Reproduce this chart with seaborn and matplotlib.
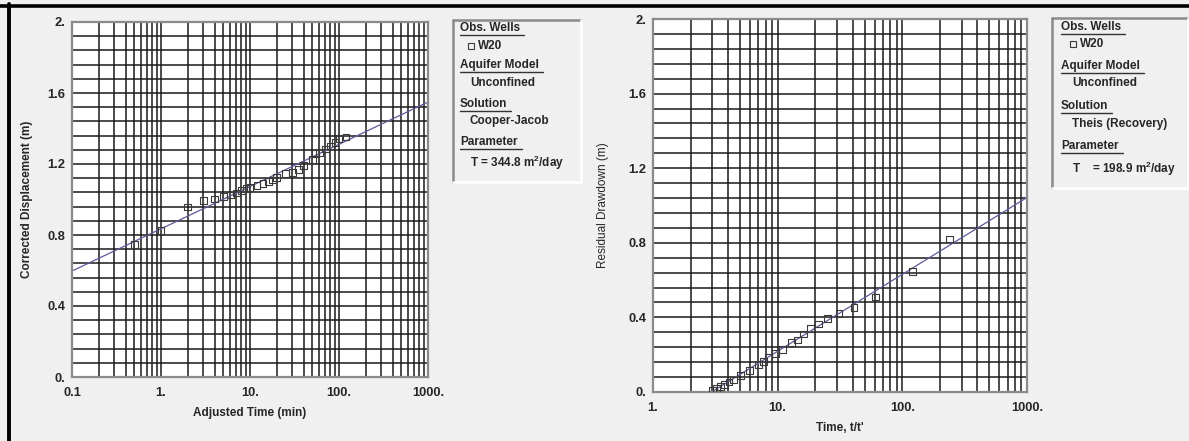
import numpy as np
import pandas as pd
import seaborn as sns
import matplotlib.pyplot as plt
from matplotlib.ticker import LogLocator, MultipleLocator, NullFormatter
from matplotlib.lines import Line2D

# pumping test, Cooper-Jacob
cj_time = [0.5, 1, 2, 3, 4, 5, 6, 7, 8, 9, 10, 12, 14, 16, 18, 20, 25, 30, 35, 40,
           50, 55, 60, 70, 80, 90, 100, 120]
cj_disp = [0.748, 0.824, 0.958, 0.993, 1.003, 1.016, 1.025, 1.037, 1.05, 1.06, 1.067,
           1.078, 1.091, 1.1, 1.11, 1.125, 1.147, 1.153, 1.17, 1.19, 1.226, 1.258,
           1.264, 1.285, 1.301, 1.322, 1.343, 1.352]
cj_fit_time = [0.1, 1000]
cj_fit_disp = [0.597, 1.549]

# recovery, Theis
rec_ratio = [3.02, 3.24, 3.49, 3.76, 4.07, 4.43, 5.05, 5.92, 7.03, 7.72, 8.5, 9.63, 11.0,
             12.9, 14.5, 16.0, 18.4, 21.2, 25.0, 31.0, 40.9, 60.6, 120, 238]
rec_resid = [0.008, 0.018, 0.029, 0.041, 0.054, 0.064, 0.089, 0.114, 0.146, 0.163, 0.184,
             0.205, 0.23, 0.264, 0.279, 0.311, 0.34, 0.365, 0.393, 0.422, 0.454, 0.509,
             0.645, 0.82]
rec_fit_ratio = [2.95, 1000]
rec_fit_resid = [0.0, 1.043]

y_ticks = [0, 0.4, 0.8, 1.2, 1.6, 2.0]
y_labels = ['0.', '0.4', '0.8', '1.2', '1.6', '2.']

left_legend = [('Obs. Wells', True), ('W20', False), ('Aquifer Model', True), ('Unconfined', False),
               ('Solution', True), ('Cooper-Jacob', False), ('Parameter', True),
               (r'T = 344.8 m$^\mathbf{2}$/day', False)]
right_legend = [('Obs. Wells', True), ('W20', False), ('Aquifer Model', True), ('Unconfined', False),
                ('Solution', True), ('Theis (Recovery)', False), ('Parameter', True),
                (r'T    = 198.9 m$^\mathbf{2}$/day', False)]

sns.set_style('white')
plt.rcParams['font.family'] = ['Liberation Sans', 'DejaVu Sans']
plt.rcParams['mathtext.fontset'] = 'custom'
plt.rcParams['mathtext.bf'] = 'Liberation Sans:bold'
plt.rcParams['mathtext.rm'] = 'Liberation Sans:bold'

W, H = 1189, 441
fig = plt.figure(figsize=(W / 100, H / 100), dpi=100, facecolor='#f0f0f0')


def box(x0, y0, x1, y1):
    # pixel box -> figure fraction rect
    return [x0 / W, 1 - y1 / H, (x1 - x0) / W, (y1 - y0) / H]


def fx(x):
    return x / W


def fy(y):
    return 1 - y / H


def setup(ax, xmin, xticks, xlabels, xlabel, ylabel, ylabel_bold):
    ax.set_facecolor('white')
    ax.set_xscale('log')
    ax.set_xlim(xmin, 1000)
    ax.set_ylim(0, 2)
    ax.set_xticks(xticks, xlabels)
    ax.xaxis.set_minor_locator(LogLocator(base=10, subs=range(2, 10), numticks=20))
    ax.xaxis.set_minor_formatter(NullFormatter())
    ax.set_yticks(y_ticks, y_labels)
    ax.yaxis.set_minor_locator(MultipleLocator(0.08))
    ax.grid(which='both', color='#1a1a1a', lw=1.1)
    ax.set_axisbelow(True)
    ax.tick_params(which='both', length=0, labelsize=9.3)
    ax.tick_params(axis='x', pad=7)
    ax.tick_params(axis='y', pad=5)
    for t in ax.get_xticklabels() + ax.get_yticklabels():
        t.set_fontweight('bold')
    for s in ax.spines.values():
        s.set_color('#8a8a8a')
        s.set_linewidth(1.6)
    ax.set_xlabel(xlabel, fontsize=8.5, fontweight='bold', labelpad=6)
    ax.set_ylabel(ylabel, fontsize=8.5, fontweight='bold' if ylabel_bold else 'normal', labelpad=10)


ax1 = fig.add_axes(box(72, 22, 428, 377))
ax2 = fig.add_axes(box(653, 19, 1027, 392))

sns.lineplot(x=cj_fit_time, y=cj_fit_disp, color='#5c5c9c', lw=0.9, ax=ax1)
sns.scatterplot(x=cj_time, y=cj_disp, marker='s', s=24, facecolors='none',
                edgecolor='#3a3a3a', linewidth=0.8, ax=ax1, zorder=3)
setup(ax1, 0.1, [0.1, 1, 10, 100, 1000], ['0.1', '1.', '10.', '100.', '1000.'],
      'Adjusted Time (min)', 'Corrected Displacement (m)', True)

sns.lineplot(x=rec_fit_ratio, y=rec_fit_resid, color='#5c5c9c', lw=0.9, ax=ax2)
sns.scatterplot(x=rec_ratio, y=rec_resid, marker='s', s=24, facecolors='none',
                edgecolor='#3a3a3a', linewidth=0.8, ax=ax2, zorder=3)
setup(ax2, 1, [1, 10, 100, 1000], ['1.', '10.', '100.', '1000.'],
      "Time, t/t'", 'Residual Drawdown (m)', False)
ax2.yaxis.labelpad = 14


def legend_panel(x0, y0, x1, y1, items, head_x, item_x, rows):
    # sunken frame: grey top/left, white bottom/right
    fig.add_artist(Line2D([fx(x0), fx(x1)], [fy(y0), fy(y0)], color='#8a8a8a', lw=1.8))
    fig.add_artist(Line2D([fx(x0), fx(x0)], [fy(y0), fy(y1)], color='#8a8a8a', lw=1.8))
    fig.add_artist(Line2D([fx(x0), fx(x1)], [fy(y1), fy(y1)], color='white', lw=1.8))
    fig.add_artist(Line2D([fx(x1), fx(x1)], [fy(y0), fy(y1)], color='white', lw=1.8))
    fig.canvas.draw()
    r = fig.canvas.get_renderer()
    for (txt, head), yy in zip(items, rows):
        if txt == 'W20':
            fig.add_artist(Line2D([fx(item_x + 1)], [fy(yy)], marker='s', ms=4, mfc='none',
                                  mec='#3a3a3a', mew=0.8, ls='none'))
            fig.text(fx(item_x + 8), fy(yy), txt, fontsize=8.5, fontweight='bold',
                     va='center', ha='left')
            continue
        xx = head_x if head else item_x
        t = fig.text(fx(xx), fy(yy), txt, fontsize=8.5, fontweight='bold', va='center', ha='left')
        if head:
            bb = t.get_window_extent(renderer=r)
            uy = yy + 7
            fig.add_artist(Line2D([fx(xx), fx(xx + bb.width + 4)], [fy(uy), fy(uy)],
                                  color='#333333', lw=1.0))


legend_panel(453, 20, 581, 182, left_legend, 460, 470, [28, 46, 65, 83, 104, 121, 142, 163])
legend_panel(1052, 18, 1188, 188, right_legend, 1061, 1072, [27, 44, 66, 83, 106, 124, 146, 169])

# outer black frame (top and left only, like the screenshot)
fig.add_artist(Line2D([0, 1], [fy(5.5), fy(5.5)], color='black', lw=2.6))
fig.add_artist(Line2D([fx(8.5), fx(8.5)], [0, fy(4)], color='black', lw=2.8))

fig.savefig('out.png', dpi=100, facecolor=fig.get_facecolor())
